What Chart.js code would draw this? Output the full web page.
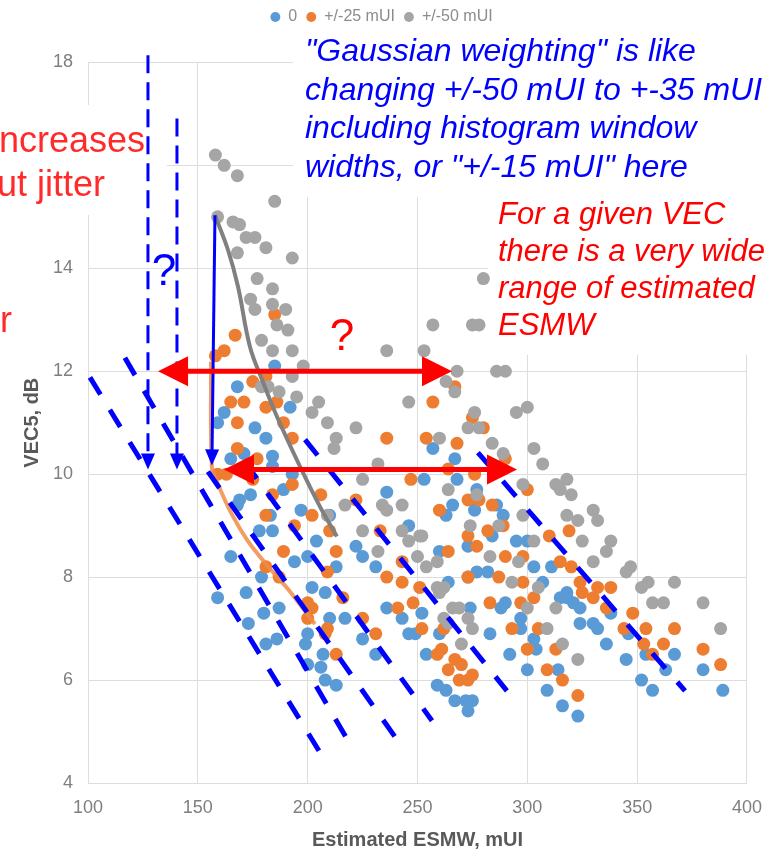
<!DOCTYPE html>
<html>
<head>
<meta charset="utf-8">
<script src="https://cdn.jsdelivr.net/npm/chart.js@4.4.0/dist/chart.umd.min.js"></script>
<style>
html, body { margin: 0; padding: 0; background: #fff; }
canvas { display: block; }
</style>
</head>
<body>
<canvas id="myScatterChart" width="776" height="852"></canvas>
<script>
var seriesNames = ['0', '+/-25 mUI', '+/-50 mUI'];
var seriesColors = ['#5B9BD5', '#ED7D31', '#A5A5A5'];
var xTickValues = [100, 150, 200, 250, 300, 350, 400];
var yTickValues = [4, 6, 8, 10, 12, 14, 16, 18];

// [Estimated ESMW (mUI), VEC5 (dB)]
var jitter0 = [
	[168, 11.7], [162, 11.2], [159, 11.0], [176, 10.9], [181, 10.7], [171, 10.4], [165, 10.3], [184, 10.35], [184, 10.15],
	[192, 11.3], [185, 12.1], [193, 10.0], [169, 9.5], [174, 9.6], [168, 9.4], [183, 9.2], [197, 9.3], [189, 9.7],
	[178, 8.9], [184, 8.9], [204, 8.7], [165, 8.4], [200, 8.4], [222, 8.6], [225, 8.4], [236, 9.65], [210, 9.2],
	[159, 7.6], [172, 7.7], [179, 8.0], [187, 7.4], [180, 7.3], [173, 7.1], [181, 6.7], [186, 6.8], [199, 6.7],
	[200, 6.9], [200, 6.3], [202, 7.8], [208, 7.7], [207, 6.5], [206, 6.25], [208, 6.0], [213, 5.9], [210, 7.2],
	[217, 7.2], [225, 6.8], [231, 6.5], [236, 7.4], [231, 8.2], [213, 8.2], [194, 8.3],
	[257, 10.5], [267, 10.3], [253, 9.9], [268, 9.9], [277, 9.7], [289, 9.2], [266, 9.4], [276, 9.3], [263, 9.2],
	[246, 9.0], [295, 8.7], [300, 8.7], [284, 8.8], [260, 8.5], [273, 8.6], [303, 8.2], [311, 8.2], [273, 8.0],
	[277, 8.1], [282, 8.1], [264, 7.9], [307, 7.9], [318, 7.7], [243, 7.2], [252, 7.3], [290, 7.5], [288, 7.4],
	[274, 7.4], [297, 7.2], [297, 7.0], [318, 7.6], [321, 7.5], [324, 7.4], [324, 7.1], [330, 7.1], [332, 7.0],
	[246, 6.9], [249, 6.9], [260, 6.9], [283, 6.9], [303, 6.8], [336, 6.7], [254, 6.5], [292, 6.5], [304, 6.6],
	[346, 6.9], [345, 6.4], [363, 6.2], [367, 6.5], [300, 6.2], [314, 6.2], [309, 5.8], [316, 5.5], [323, 5.3],
	[352, 6.0], [357, 5.8], [380, 6.2], [389, 5.8], [259, 5.9], [263, 5.8], [267, 5.6], [272, 5.6], [273, 5.4],
	[275, 5.6], [315, 7.6], [354, 6.5], [286, 9.4], [275, 9.5], [338, 7.3]
];
var jitter25 = [
	[185, 13.1], [167, 12.7], [162, 12.4], [158, 12.3], [175, 11.8], [181, 11.9], [165, 11.4], [171, 11.4], [168, 11.0],
	[181, 11.3], [186, 11.4], [189, 11.0], [193, 10.7], [168, 10.5], [177, 10.3], [175, 9.9], [184, 9.6], [193, 9.8],
	[159, 10.0], [163, 10.0], [181, 9.2], [194, 9.0], [202, 9.2], [210, 8.9], [206, 9.6], [222, 9.5], [236, 10.7],
	[189, 8.5], [213, 8.5],
	[257, 11.4], [267, 11.7], [275, 11.1], [280, 10.9], [254, 10.7], [268, 10.6], [290, 10.3], [247, 9.9], [264, 10.1],
	[276, 10.0], [300, 9.7], [273, 9.5], [278, 9.5], [284, 9.4], [260, 9.3], [319, 8.9], [310, 8.8], [289, 9.0],
	[282, 8.9], [277, 8.6], [273, 8.8], [264, 8.5], [290, 8.4], [233, 8.9], [315, 8.3], [320, 8.2], [243, 8.3],
	[236, 8.0], [273, 8.0], [287, 8.0], [298, 7.9], [324, 7.9], [338, 7.8], [243, 7.9], [251, 7.8], [330, 7.6],
	[336, 7.4], [348, 7.3], [248, 7.5], [283, 7.5], [303, 7.6], [297, 7.5], [325, 7.7], [354, 7.0], [367, 7.0],
	[252, 7.0], [293, 7.0], [305, 7.0], [353, 6.7], [362, 6.7], [380, 6.6], [388, 6.3], [261, 6.6], [300, 6.6],
	[264, 6.2], [267, 6.4], [269, 6.0], [273, 6.0], [309, 6.2], [316, 6.0], [323, 5.7], [259, 6.5], [313, 6.6],
	[181, 8.2], [187, 8.0], [200, 7.5], [202, 7.4], [200, 7.2], [209, 7.0], [208, 6.9], [213, 6.5], [216, 7.6],
	[225, 7.2], [231, 6.9], [209, 8.1], [262, 7.0], [270, 6.3], [275, 6.1], [241, 7.4], [298, 8.4], [332, 7.8],
	[344, 7.0], [357, 6.5]
];
var jitter50 = [
	[158, 16.2], [162, 16.0], [168, 15.8], [185, 15.3], [159, 15.0], [166, 14.9], [169, 14.85], [172, 14.6], [176, 14.6],
	[181, 14.4], [168, 14.3], [193, 14.2], [177, 13.8], [184, 13.6], [174, 13.4], [184, 13.3], [190, 13.2], [176, 13.2],
	[186, 12.9], [191, 12.8], [179, 12.6], [184, 12.4], [193, 12.4], [236, 12.4], [198, 12.1], [193, 11.9], [179, 11.7],
	[182, 11.7], [187, 11.6], [195, 11.5], [205, 11.4], [202, 11.2], [209, 11.0], [222, 10.9], [213, 10.7], [212, 10.5],
	[232, 10.2], [225, 9.9], [217, 9.4], [209, 9.2], [225, 8.9], [234, 9.4], [232, 8.5],
	[257, 12.9], [275, 12.9], [278, 12.9], [280, 13.8], [253, 12.4], [268, 12.0], [286, 12.0], [290, 12.0], [263, 11.8],
	[267, 11.6], [246, 11.4], [295, 11.2], [300, 11.3], [276, 11.2], [273, 10.9], [278, 10.9], [284, 10.6], [289, 10.4],
	[303, 10.5], [307, 10.2], [260, 10.7], [298, 9.8], [313, 9.8], [318, 9.9], [264, 9.7], [277, 9.6], [243, 9.4],
	[236, 9.3], [298, 9.2], [315, 9.7], [320, 9.6], [330, 9.3], [318, 9.2], [323, 9.1], [332, 9.1], [251, 8.8],
	[246, 8.7], [303, 8.7], [338, 8.7], [336, 8.5], [325, 8.7], [330, 8.3], [250, 8.4], [259, 8.3], [283, 8.4],
	[296, 8.3], [254, 8.2], [347, 8.2], [345, 8.1], [259, 7.8], [262, 7.8], [260, 7.7], [293, 7.9], [305, 7.8],
	[352, 7.8], [355, 7.9], [367, 7.9], [357, 7.5], [362, 7.5], [266, 7.4], [269, 7.4], [300, 7.4], [273, 7.2],
	[275, 7.0], [264, 7.1], [309, 7.0], [380, 7.5], [388, 7.0], [316, 6.7], [323, 6.4], [270, 6.7], [243, 8.9],
	[252, 8.8], [274, 9.0], [287, 9.0], [262, 7.2], [313, 7.4]
];

// hand drawn trend curves
var grayTrend = [[157.8, 15.03], [163.7, 14.36], [168.3, 13.64], [173.7, 12.48], [179.2, 11.84], [186.0, 11.12], [196.5, 10.15], [205.6, 9.37], [213.3, 8.79]];
var orangeTrend = [[156.0, 12.19], [156.4, 10.13], [159.2, 9.80], [165.5, 9.22], [172.8, 8.70], [181.9, 8.21], [191.0, 7.77], [198.8, 7.34], [203.3, 7.09]];

// annotation shapes (data units)
var dashedDiagonals = [
	[[100.9, 11.88], [206.5, 4.53]],
	[[116.8, 12.26], [218.4, 4.82]],
	[[154.6, 10.05], [239.7, 4.90]],
	[[171.5, 10.23], [256.6, 5.21]],
	[[198.8, 10.67], [290.7, 5.79]],
	[[277.5, 10.42], [371.8, 5.79]]
];
var dashedDrops = [
	[[127.3, 18.14], [127.3, 10.09]],
	[[140.5, 16.91], [140.5, 10.09]]
];
var solidDrop = [[157.8, 15.03], [156.4, 10.17]];
var redSpans = [
	[[131.9, 12.0], [265.7, 12.0]],
	[[161.9, 10.09], [295.3, 10.09]]
];

var blueNote = ['"Gaussian weighting" is like', 'changing +/-50 mUI to +-35 mUI', 'including histogram window', 'widths, or "+/-15 mUI" here'];
var redNote = ['For a given VEC', 'there is a very wide', 'range of estimated', 'ESMW'];

var FONT = '"Liberation Sans", Arial, sans-serif';
Chart.defaults.font.family = FONT;

function toXY(p) {
	return { x: p[0], y: p[1] };
}

function arrowHead(c, tip, from, len, half) {
	var a = Math.atan2(tip[1] - from[1], tip[0] - from[0]);
	var bx = tip[0] - len * Math.cos(a), by = tip[1] - len * Math.sin(a);
	c.beginPath();
	c.moveTo(tip[0], tip[1]);
	c.lineTo(bx + half * Math.sin(a), by - half * Math.cos(a));
	c.lineTo(bx - half * Math.sin(a), by + half * Math.cos(a));
	c.closePath();
	c.fill();
}

function shorten(p, q, d) {
	var dx = q[0] - p[0], dy = q[1] - p[1], l = Math.sqrt(dx * dx + dy * dy);
	return [q[0] - dx / l * d, q[1] - dy / l * d];
}

var overlay = {
	id: 'overlay',
	beforeDatasetsDraw: function (chart) {
		// text boxes sit on top of the grid
		var c = chart.ctx;
		c.save();
		c.fillStyle = '#fff';
		c.fillRect(0, 105, 167, 110);
		c.fillRect(293, 28, 483, 169);
		c.fillRect(488, 197, 288, 158);
		c.restore();
	},
	afterDatasetsDraw: function (chart) {
		var c = chart.ctx, sx = chart.scales.x, sy = chart.scales.y;
		function px(p) {
			return [sx.getPixelForValue(p[0]), sy.getPixelForValue(p[1])];
		}
		c.save();

		// diagonal dashed guides
		c.strokeStyle = '#0000FF';
		c.lineWidth = 5;
		c.setLineDash([20, 18]);
		dashedDiagonals.forEach(function (s) {
			var a = px(s[0]), b = px(s[1]);
			c.beginPath();
			c.moveTo(a[0], a[1]);
			c.lineTo(b[0], b[1]);
			c.stroke();
		});

		// vertical dashed arrows
		c.fillStyle = '#0000FF';
		c.lineWidth = 3;
		c.setLineDash([18, 9]);
		dashedDrops.forEach(function (s) {
			var a = px(s[0]), b = px(s[1]), e = shorten(a, b, 14);
			c.beginPath();
			c.moveTo(a[0], a[1]);
			c.lineTo(e[0], e[1]);
			c.stroke();
			arrowHead(c, b, a, 16, 7);
		});
		c.setLineDash([]);

		// solid blue arrow
		var s0 = px(solidDrop[0]), s1 = px(solidDrop[1]), se = shorten(s0, s1, 14);
		c.beginPath();
		c.moveTo(s0[0], s0[1]);
		c.lineTo(se[0], se[1]);
		c.stroke();
		arrowHead(c, s1, s0, 16, 7);

		// red double arrows
		c.strokeStyle = '#FF0000';
		c.fillStyle = '#FF0000';
		c.lineWidth = 5;
		redSpans.forEach(function (s) {
			var a = px(s[0]), b = px(s[1]);
			var a2 = shorten(b, a, 26), b2 = shorten(a, b, 26);
			c.beginPath();
			c.moveTo(a2[0], a2[1]);
			c.lineTo(b2[0], b2[1]);
			c.stroke();
			arrowHead(c, a, b, 30, 15);
			arrowHead(c, b, a, 30, 15);
		});

		// texts
		c.textBaseline = 'alphabetic';
		c.textAlign = 'left';
		c.fillStyle = '#0000FF';
		c.font = 'italic 32px ' + FONT;
		blueNote.forEach(function (t, i) {
			c.fillText(t, 305, 61 + i * 38.5);
		});
		c.fillStyle = '#FF0000';
		c.font = 'italic 31px ' + FONT;
		redNote.forEach(function (t, i) {
			c.fillText(t, 498, 224 + i * 37);
		});
		c.fillStyle = '#FF2A2A';
		c.font = '36px ' + FONT;
		c.textAlign = 'right';
		c.fillText('increases', 145, 152);
		c.fillText('without jitter', 105, 196);
		c.fillText('for', 12, 332);
		c.textAlign = 'center';
		c.font = '44px ' + FONT;
		c.fillStyle = '#0000FF';
		c.fillText('?', 164, 285);
		c.fillStyle = '#FF0000';
		c.fillText('?', 342, 350);
		c.restore();
	}
};

var ctx = document.getElementById('myScatterChart');
var myScatterChart = new Chart(ctx, {
	type: 'scatter',
	data: {
		datasets: [
			{
				label: seriesNames[0],
				data: jitter0.map(toXY),
				backgroundColor: seriesColors[0],
				borderColor: seriesColors[0],
				borderWidth: 0,
				pointRadius: 6.5,
				order: 3,
			},
			{
				label: seriesNames[1],
				data: jitter25.map(toXY),
				backgroundColor: seriesColors[1],
				borderColor: seriesColors[1],
				borderWidth: 0,
				pointRadius: 6.5,
				order: 2,
			},
			{
				label: seriesNames[2],
				data: jitter50.map(toXY),
				backgroundColor: seriesColors[2],
				borderColor: seriesColors[2],
				borderWidth: 0,
				pointRadius: 6.5,
				order: 1,
			},
			{
				label: 'gray trend',
				data: grayTrend.map(toXY),
				showLine: true,
				borderColor: '#808080',
				borderWidth: 4,
				pointRadius: 0,
				tension: 0.4,
				order: 0,
			},
			{
				label: 'orange trend',
				data: orangeTrend.map(toXY),
				showLine: true,
				borderColor: 'rgba(240,140,70,0.85)',
				borderWidth: 4,
				pointRadius: 0,
				tension: 0.3,
				order: 0,
			},
		],
	},
	options: {
		responsive: false,
		animation: false,
		events: [],
		layout: {
			padding: { left: 16, right: 29, top: 0, bottom: 0 },
		},
		plugins: {
			legend: {
				display: true,
				position: 'top',
				labels: {
					usePointStyle: true,
					pointStyle: 'circle',
					boxWidth: 10,
					boxHeight: 7,
					padding: 9,
					color: '#8C8C8C',
					font: { size: 16 },
					filter: function (item) {
						return item.datasetIndex < 3;
					},
					sort: function (a, b) {
						return a.datasetIndex - b.datasetIndex;
					},
				},
			},
			// spacer between legend and plot area
			title: {
				display: true,
				text: '',
				weight: 10,
				padding: { top: 0, bottom: 1 },
				font: { size: 22 },
			},
			tooltip: { enabled: false },
		},
		scales: {
			x: {
				type: 'linear',
				min: 100,
				max: 400,
				afterBuildTicks: function (s) {
					s.ticks = xTickValues.map(function (v) { return { value: v }; });
				},
				afterFit: function (s) {
					s.height = 69;
				},
				grid: { color: '#DDDDDD', drawTicks: false },
				border: { color: '#DDDDDD' },
				ticks: { color: '#7F7F7F', font: { size: 18 }, padding: 14 },
				title: {
					display: true,
					text: 'Estimated ESMW, mUI',
					color: '#595959',
					font: { size: 20, weight: 'bold' },
					padding: { top: 0, bottom: 0 },
				},
			},
			y: {
				type: 'linear',
				min: 4,
				max: 18,
				afterBuildTicks: function (s) {
					s.ticks = yTickValues.map(function (v) { return { value: v }; });
				},
				afterFit: function (s) {
					s.width = 72;
				},
				grid: { color: '#DDDDDD', drawTicks: false },
				border: { color: '#DDDDDD' },
				ticks: { color: '#7F7F7F', font: { size: 18 }, padding: 15 },
				title: {
					display: true,
					text: 'VEC5, dB',
					color: '#595959',
					font: { size: 20, weight: 'bold' },
					padding: { top: 4, bottom: 0 },
				},
			},
		},
	},
	plugins: [overlay],
});
</script>
</body>
</html>
